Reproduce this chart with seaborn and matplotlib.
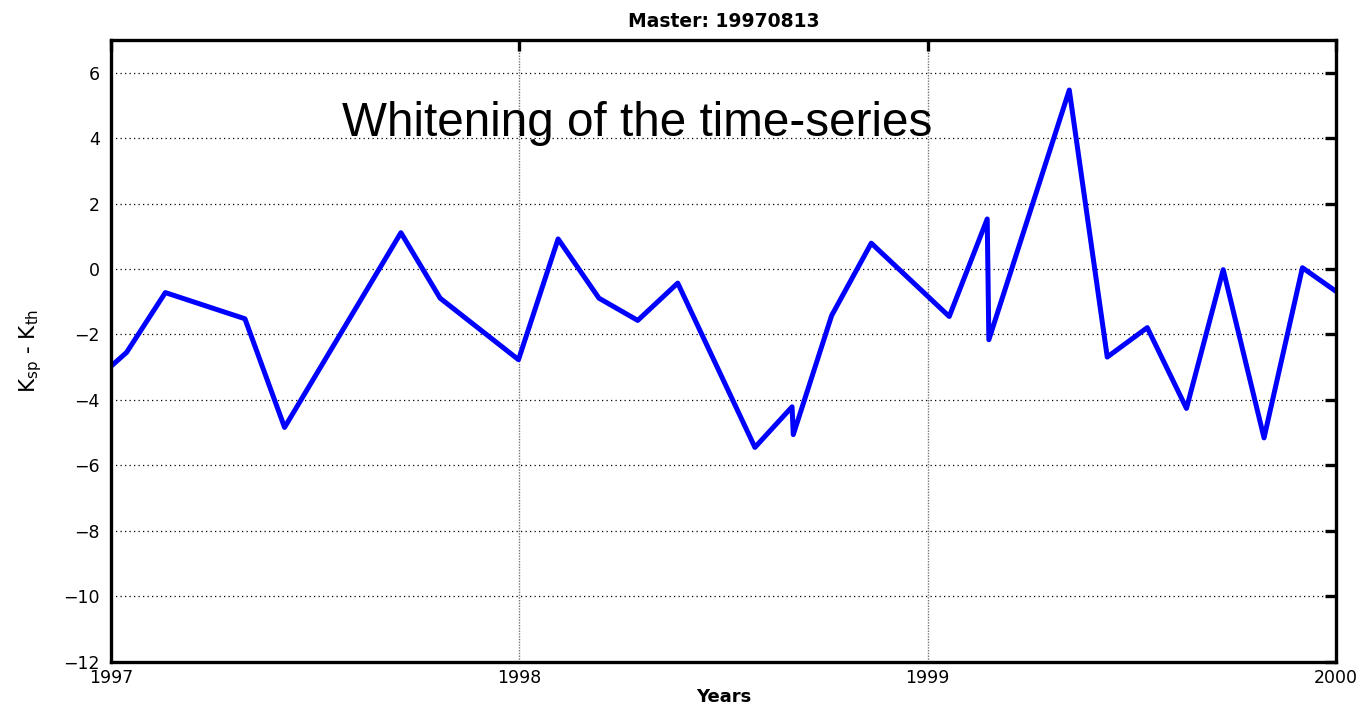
import matplotlib
matplotlib.use("Agg")
import matplotlib.pyplot as plt
import seaborn as sns
import pandas as pd

# Decimal-year sample times and the whitened K_sp - K_th residuals
years = [1997.000, 1997.038, 1997.133, 1997.328, 1997.425, 1997.710, 1997.806,
         1997.998, 1998.095, 1998.195, 1998.290, 1998.388, 1998.577, 1998.668,
         1998.671, 1998.765, 1998.862, 1999.053, 1999.146, 1999.150, 1999.347,
         1999.440, 1999.538, 1999.634, 1999.724, 1999.824, 1999.918, 2000.000]
k_diff = [-2.97, -2.55, -0.72, -1.52, -4.84, 1.11, -0.89,
          -2.77, 0.92, -0.89, -1.57, -0.43, -5.45, -4.21,
          -5.06, -1.42, 0.79, -1.45, 1.53, -2.16, 5.47,
          -2.69, -1.79, -4.26, -0.02, -5.16, 0.04, -0.68]

x_ticks = [1997, 1998, 1999, 2000]
y_ticks = list(range(-12, 7, 2))

title_text = "Master: 19970813"
annotation = "Whitening of the time-series"

df = pd.DataFrame({"year": years, "k": k_diff})

sns.set_theme(style="white")
plt.rcParams["font.family"] = ["DejaVu Sans"]
plt.rcParams["mathtext.default"] = "regular"
plt.rcParams["text.color"] = "black"
plt.rcParams["axes.labelcolor"] = "black"
plt.rcParams["axes.titlecolor"] = "black"

fig = plt.figure(figsize=(13.59, 7.05), dpi=100)
ax = fig.add_axes([0.0817, 0.0614, 0.9013, 0.8819])

sns.lineplot(data=df, x="year", y="k", ax=ax, sort=False, estimator=None,
             color="#0000ff", linewidth=3.6, clip_on=True)

ax.set_xlim(1997, 2000)
ax.set_ylim(-12, 7)
ax.set_xticks(x_ticks)
ax.set_xticklabels([str(t) for t in x_ticks])
ax.set_yticks(y_ticks)

# dotted grid: black horizontal rules, grey vertical rules
for y in y_ticks:
    ax.axhline(y, color="black", linewidth=0.9, linestyle=(0, (1, 2.6)), zorder=0.5)
for x in x_ticks[1:-1]:
    ax.axvline(x, color="0.45", linewidth=1.0, linestyle=(0, (1, 1)), zorder=0.5)

for side in ["left", "right", "top", "bottom"]:
    ax.spines[side].set_visible(True)
    ax.spines[side].set_linewidth(2.4)
    ax.spines[side].set_color("black")

ax.tick_params(axis="both", which="major", direction="in", length=8, width=2.4,
               color="black", labelsize=12.5, labelcolor="black",
               top=True, right=True)
ax.tick_params(axis="y", pad=8)
ax.tick_params(axis="x", pad=5)

ax.set_title(title_text, fontsize=13.5, fontweight="bold", pad=9)
ax.set_xlabel("Years", fontsize=13, fontweight="bold", labelpad=1)
ax.set_ylabel("K$_{sp}$ - K$_{th}$", fontsize=15.5, labelpad=14)

ax.text(1997.565, 4.08, annotation, fontsize=34.3, family="Liberation Sans",
        ha="left", va="baseline", color="black")

fig.savefig("out.png", dpi=100)
